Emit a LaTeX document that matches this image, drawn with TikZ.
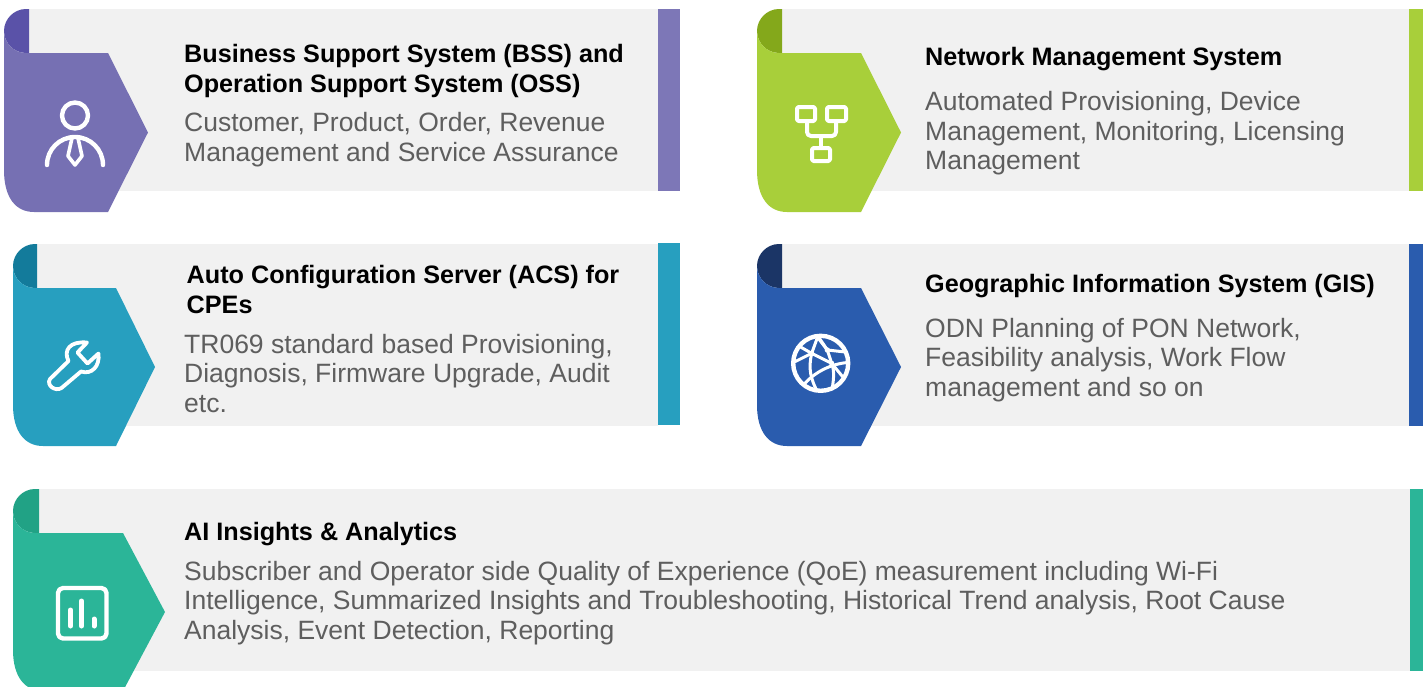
\documentclass[tikz,border=0pt]{standalone}
\usepackage{fontspec}
\setmainfont{Liberation Sans}
\definecolor{cardgray}{HTML}{F1F1F1}
\definecolor{bodygray}{HTML}{5E5E5E}
\definecolor{purpleA}{HTML}{7670B3}\definecolor{purpleB}{HTML}{5A52A8}
\definecolor{limeA}{HTML}{A8CF3A}\definecolor{limeB}{HTML}{84A81B}
\definecolor{tealA}{HTML}{279FBF}\definecolor{tealB}{HTML}{137B9B}
\definecolor{blueA}{HTML}{2A5CAE}\definecolor{blueB}{HTML}{1B3566}
\definecolor{greenA}{HTML}{2BB598}\definecolor{greenB}{HTML}{21A285}
\tikzset{
  cardtitle/.style={anchor=base west,inner sep=0pt,align=left,text=black,font=\fontsize{25.2}{29.5}\selectfont\bfseries},
  cardbody/.style={anchor=base west,inner sep=0pt,align=left,text=bodygray,font=\fontsize{26.5}{29.5}\selectfont},
  icon/.style={draw=white,line width=4.4pt,line cap=round,line join=round},
  thinicon/.style={draw=white,line width=3pt,line cap=round,line join=round}
}
\begin{document}
\begin{tikzpicture}[x=1pt,y=-1pt]
\useasboundingbox (0,0) rectangle (1423,686);
\clip (0,0) rectangle (1423,686);

% ---- gray panels and end bars
\fill[cardgray] (29,9) rectangle (658,191);
\fill[purpleA!95!white] (658,9) rectangle (680,191);
\fill[cardgray] (782,9) rectangle (1409,191);
\fill[limeA] (1409,9) rectangle (1423,191);
\fill[cardgray] (37,244) rectangle (658,426);
\fill[tealA] (658,243) rectangle (680,425);
\fill[cardgray] (782,244) rectangle (1409,426);
\fill[blueA] (1409,244) rectangle (1423,426);
\fill[cardgray] (39,489) rectangle (1410,671);
\fill[greenA] (1410,489) rectangle (1423,671);

% ---- ribbons
\fill[purpleB] (4,31) .. controls (4,19) and (14,9) .. (26,9) -- (29,9) -- (29,53) -- (26,53) .. controls (14,53) and (4,43) .. (4,31) -- cycle;
\fill[purpleA] (4,31) -- (4,170) .. controls (4,198) and (16,212) .. (34,212) -- (108,212) -- (148,132.5) -- (108,53) -- (26,53) .. controls (14,53) and (4,43) .. (4,31) -- cycle;

\fill[limeB] (757,31) .. controls (757,19) and (767,9) .. (779,9) -- (782,9) -- (782,53) -- (779,53) .. controls (767,53) and (757,43) .. (757,31) -- cycle;
\fill[limeA] (757,31) -- (757,170) .. controls (757,198) and (769,212) .. (787,212) -- (861,212) -- (901,132.5) -- (861,53) -- (779,53) .. controls (767,53) and (757,43) .. (757,31) -- cycle;

\fill[tealB] (13,266) .. controls (13,254) and (23,244) .. (35,244) -- (37,244) -- (37,288) -- (35,288) .. controls (23,288) and (13,278) .. (13,266) -- cycle;
\fill[tealA] (13,266) -- (13,405) .. controls (13,432) and (25,446) .. (43,446) -- (116,446) -- (155,367) -- (116,288) -- (35,288) .. controls (23,288) and (13,278) .. (13,266) -- cycle;

\fill[blueB] (757,266) .. controls (757,254) and (767,244) .. (779,244) -- (782,244) -- (782,288) -- (779,288) .. controls (767,288) and (757,278) .. (757,266) -- cycle;
\fill[blueA] (757,266) -- (757,405) .. controls (757,432) and (769,446) .. (787,446) -- (861,446) -- (901,367) -- (861,288) -- (779,288) .. controls (767,288) and (757,278) .. (757,266) -- cycle;

\fill[greenB] (13,511) .. controls (13,499) and (23,489) .. (35,489) -- (39,489) -- (39,533) -- (35,533) .. controls (23,533) and (13,523) .. (13,511) -- cycle;
\fill[greenA] (13,511) -- (13,650) .. controls (13,677) and (25,691) .. (43,691) -- (123,691) -- (165,612) -- (123,533) -- (35,533) .. controls (23,533) and (13,523) .. (13,511) -- cycle;

% ---- person icon
\draw[icon] (75,115.5) circle[radius=13];
\draw[icon] (47,165) .. controls (47,149.5) and (59.5,137) .. (75,137) .. controls (90.5,137) and (103,149.5) .. (103,165);
\draw[icon,line width=3.6pt] (72,138) -- (68,156) -- (75,165) -- (82,156) -- (78,138);

% ---- network icon
\draw[icon,line width=4pt,rounded corners=1.5pt] (797,107) rectangle (815,121);
\draw[icon,line width=4pt,rounded corners=1.5pt] (827,107) rectangle (846,121);
\draw[icon,line width=4pt,rounded corners=1.5pt] (812,148) rectangle (830,161);
\draw[icon,line width=4pt,rounded corners=4pt] (807,121) -- (807,136) -- (836,136) -- (836,121);
\draw[icon,line width=4pt] (821,136) -- (821,148);

% ---- wrench icon
\draw[icon,line width=3.8pt] (50,379) -- (68.5,361)
  .. controls (63,350) and (70,341) .. (87,342.5)
  -- (77.5,352.5) -- (87.5,363.5) -- (98.5,353.5)
  .. controls (100,366) and (92,375) .. (81,371.5)
  -- (61.5,388) .. controls (55,392) and (46,385) .. (50,379) -- cycle;

% ---- globe icon
\begin{scope}
\clip (820.7,363.3) circle[radius=27.5];
\begin{scope}[shift={(750,235)},scale=1/3]
\draw[thinicon] (125,385) -- (185,355) -- (205,300);
\draw[thinicon] (205,305) -- (232,345) -- (245,385) -- (290,440);
\draw[thinicon] (150,335) -- (185,355);
\draw[thinicon] (232,345) -- (295,352);
\draw[thinicon] (232,345) -- (205,310);
\draw[thinicon] (185,355) -- (245,385);
\draw[thinicon] (185,355) .. controls (175,400) and (180,430) .. (205,475);
\draw[thinicon] (245,385) .. controls (255,410) and (250,440) .. (245,470);
\draw[thinicon] (160,450) .. controls (190,415) and (240,385) .. (300,382);
\fill[white] (185,355) circle[radius=8] (232,345) circle[radius=8] (245,385) circle[radius=8];
\end{scope}
\end{scope}
\draw[icon] (820.7,363.3) circle[radius=27.5];

% ---- chart icon
\draw[icon,rounded corners=5pt] (58,588) rectangle (106.5,638.5);
\draw[icon,line width=5pt] (70.5,610) -- (70.5,626);
\draw[icon,line width=5pt] (81.5,601) -- (81.5,626);
\draw[icon,line width=5pt] (94,619) -- (94,626);

% ---- texts
\node[cardtitle] (t1) at (184,92) {Business Support System (BSS) and\\Operation Support System (OSS)};
\node[cardbody]  (b1) at (184,161) {Customer, Product, Order, Revenue\\Management and Service Assurance};
\node[cardtitle] (t2) at (925,65) {Network Management System};
\node[cardbody]  (b2) at (925,169.5) {Automated Provisioning, Device\\Management, Monitoring, Licensing\\Management};
\node[cardtitle] (t3) at (186.5,313) {Auto Configuration Server (ACS) for\\CPEs};
\node[cardbody]  (b3) at (184,412) {TR069 standard based Provisioning,\\Diagnosis, Firmware Upgrade, Audit\\etc.};
\node[cardtitle] (t4) at (925,292) {Geographic Information System (GIS)};
\node[cardbody]  (b4) at (925,396) {ODN Planning of PON Network,\\Feasibility analysis, Work Flow\\management and so on};
\node[cardtitle] (t5) at (184,540) {AI Insights \& Analytics};
\node[cardbody]  (b5) at (184,639) {Subscriber and Operator side Quality of Experience (QoE) measurement including Wi-Fi\\Intelligence, Summarized Insights and Troubleshooting, Historical Trend analysis, Root Cause\\Analysis, Event Detection, Reporting};
\end{tikzpicture}
\end{document}
